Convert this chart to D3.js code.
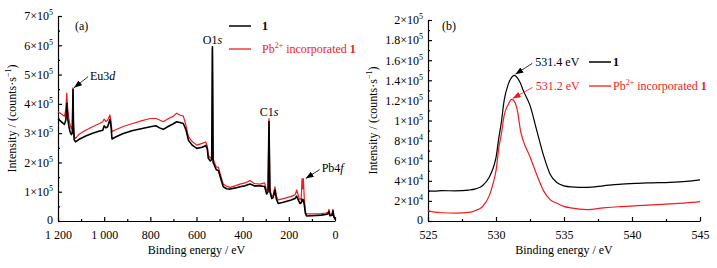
<!DOCTYPE html>
<html>
<head>
<meta charset="utf-8">
<script src="https://cdn.jsdelivr.net/npm/d3@7"></script>
<style>
    body { margin: 0; background: #fff; }
    svg, svg text { font-family: "Liberation Serif", "Times New Roman", serif; }
    .axis path, .axis line { stroke: #000; stroke-width: 1.2; }
    .axis text { font-family: "Liberation Serif", "Times New Roman", serif; font-size: 12px; fill: #000; }
</style>
</head>
<body>
<div id="chart"></div>
<script>

// ---- data ----

// (a) survey spectrum, binding energy in eV, intensity in 10^5 counts/s
var surveyBE = [1200, 1190, 1180, 1172, 1166, 1162, 1158, 1152, 1148, 1142, 1138, 1135, 1133, 1130, 1124,
    1110, 1080, 1050, 1020, 1006, 1000, 993, 985, 975, 970, 966, 955, 920, 880, 840, 800, 776, 760, 744,
    725, 700, 686, 672, 657, 645, 635, 620, 599, 575, 560, 553, 549, 540, 534, 531, 528, 525, 515, 505,
    495, 484, 470, 455, 430, 412, 390, 368, 350, 325, 305, 296, 290, 286, 282, 274, 268, 260, 254, 246,
    220, 190, 173, 166, 158, 152, 146, 143, 140, 137, 133, 128, 123, 100, 60, 40, 30, 26, 22, 12, 9, 5, 0];
var surveyPristine = [3.48, 3.42, 3.35, 3.30, 3.45, 4.02, 3.50, 3.20, 3.05, 2.95, 3.00, 4.50, 3.30, 2.78, 2.70,
    2.78, 2.90, 3.00, 3.07, 3.10, 3.25, 3.18, 3.22, 3.47, 3.20, 2.80, 2.85, 2.98, 3.08, 3.15, 3.22, 3.25, 3.18, 3.13,
    3.22, 3.32, 3.39, 3.36, 3.33, 3.10, 2.76, 2.60, 2.48, 2.52, 2.58, 2.45, 2.14, 2.05, 2.10, 5.95, 2.00, 1.95, 1.76, 1.72,
    1.45, 1.17, 1.10, 1.09, 1.13, 1.17, 1.20, 1.26, 1.20, 1.20, 1.18, 0.92, 1.00, 3.40, 1.00, 0.77, 0.80, 1.06, 0.75, 0.60,
    0.65, 0.72, 0.77, 0.85, 0.70, 0.60, 0.62, 0.75, 0.68, 0.72, 0.55, 0.25, 0.17, 0.18, 0.20, 0.22, 0.25, 0.32, 0.18, 0.20, 0.35, 0.15, 0.05];
var surveyPb = [3.73, 3.68, 3.62, 3.58, 3.80, 4.37, 3.85, 3.45, 3.30, 3.15, 3.25, 4.55, 3.40, 2.88, 2.82,
    2.95, 3.10, 3.22, 3.33, 3.39, 3.48, 3.40, 3.44, 3.62, 3.40, 3.05, 3.10, 3.22, 3.32, 3.42, 3.50, 3.50, 3.45, 3.39,
    3.48, 3.58, 3.68, 3.62, 3.58, 3.25, 2.88, 2.72, 2.59, 2.65, 2.70, 2.55, 2.25, 2.15, 2.20, 5.90, 2.10, 2.06, 1.85, 1.83,
    1.55, 1.26, 1.19, 1.15, 1.21, 1.26, 1.30, 1.38, 1.28, 1.26, 1.30, 1.04, 1.10, 3.50, 1.10, 0.83, 0.88, 1.17, 0.85, 0.72,
    0.77, 0.84, 0.89, 1.06, 0.85, 0.72, 0.80, 1.45, 1.10, 1.45, 0.75, 0.30, 0.24, 0.24, 0.25, 0.27, 0.30, 0.40, 0.22, 0.25, 0.40, 0.18, 0.08];

var surveyXTicks = [1200, 1000, 800, 600, 400, 200, 0];
var surveyYTicks = [0, 1, 2, 3, 4, 5, 6, 7];            // x 10^5

// (b) O1s region, binding energy in eV, intensity in 10^4 counts/s
var o1sBE = [525.0, 525.5, 526.0, 527.0, 528.0, 528.5, 529.0, 529.5, 529.8, 530.0, 530.2, 530.4, 530.6, 530.9,
    531.15, 531.35, 531.6, 531.8, 532.0, 532.5, 533.0, 533.5, 534.0, 534.5, 535.0, 535.5, 536.7, 537.9, 539.0,
    540.4, 541.5, 542.8, 544.0, 545.0];
var o1sPristine = [3.00, 2.98, 3.02, 3.00, 3.08, 3.20, 3.50, 4.35, 5.30, 6.30, 8.20, 9.90, 12.0, 13.6,
    14.3, 14.5, 14.2, 13.7, 13.0, 11.5, 9.0, 6.5, 4.6, 3.8, 3.5, 3.4, 3.35, 3.5, 3.65,
    3.75, 3.8, 3.85, 3.95, 4.1];
var o1sPb = [1.00, 0.88, 0.82, 0.78, 0.85, 1.05, 1.42, 2.50, 3.80, 5.00, 7.20, 8.70, 10.5, 11.6,
    12.1, 11.9, 10.8, 9.0, 8.0, 6.4, 4.6, 3.0, 2.1, 1.76, 1.45, 1.3, 1.13, 1.3, 1.42,
    1.52, 1.6, 1.7, 1.8, 1.92];

var o1sXTicks = [525, 530, 535, 540, 545];
var o1sYTicks = [0, 2, 4, 6, 8, 10, 12, 14, 16, 18, 20];  // x 10^4

var black = "#000";
var red = "#f01c1c";


var svg = d3.select("#chart").append("svg")
    .attr("width", 717)
    .attr("height", 268);

var defs = svg.append("defs");
[["arrowK", black], ["arrowR", red]].forEach(function(m) {
    defs.append("marker")
        .attr("id", m[0])
        .attr("markerUnits", "userSpaceOnUse")
        .attr("markerWidth", 8).attr("markerHeight", 6)
        .attr("refX", 8).attr("refY", 3)
        .attr("orient", "auto")
        .append("path")
        .attr("d", "M0,0 L8,3 L0,6 z")
        .attr("fill", m[1]);
});

// write base + superscript into a text element
function supText(sel, base, sup, tail) {
    sel.text(null);
    sel.append("tspan").text(base);
    sel.append("tspan").attr("dy", -5).attr("font-size", "8px").text(sup);
    if (tail) sel.append("tspan").attr("dy", 5).text(tail);
}


/*
 * One panel: scales, inward axes with minor ticks, two lines
 */
Panel = function(_opt) {
    this.opt = _opt;
    this.initVis();
}

Panel.prototype.initVis = function() {
    var vis = this, o = vis.opt;

    vis.g = svg.append("g");

    vis.x = d3.scaleLinear().domain(o.xDomain).range([o.left, o.right]);
    vis.y = d3.scaleLinear().domain(o.yDomain).range([o.bottom, o.top]);

    // minor ticks
    vis.g.append("g")
        .attr("class", "axis")
        .attr("transform", "translate(0," + o.bottom + ")")
        .call(d3.axisBottom(vis.x).tickValues(o.xMinor).tickSizeInner(-2).tickSizeOuter(0).tickFormat(""))
        .select(".domain").remove();
    vis.g.append("g")
        .attr("class", "axis")
        .attr("transform", "translate(" + o.left + ",0)")
        .call(d3.axisLeft(vis.y).tickValues(o.yMinor).tickSizeInner(-2).tickSizeOuter(0).tickFormat(""))
        .select(".domain").remove();

    // major axes
    vis.xAxis = vis.g.append("g")
        .attr("class", "axis")
        .attr("transform", "translate(0," + o.bottom + ")")
        .call(d3.axisBottom(vis.x).tickValues(o.xTicks).tickSizeInner(-4).tickSizeOuter(0)
            .tickPadding(9).tickFormat(o.xFormat));

    vis.yAxis = vis.g.append("g")
        .attr("class", "axis")
        .attr("transform", "translate(" + o.left + ",0)")
        .call(d3.axisLeft(vis.y).tickValues(o.yTicks).tickSizeInner(-4).tickSizeOuter(0).tickPadding(5));

    vis.yAxis.selectAll(".tick text").each(function(d) {
        var t = o.yLabel(d);
        if (t.length == 1) d3.select(this).text(t[0]).attr("dy", "0.2em");
        else supText(d3.select(this), t[0], t[1]);
    });

    // axis titles
    vis.g.append("text")
        .attr("x", (o.left + o.right) / 2)
        .attr("y", 254)
        .attr("text-anchor", "middle")
        .attr("font-size", "12px")
        .text("Binding energy / eV");

    var yt = vis.g.append("text")
        .attr("transform", "translate(" + o.titleX + "," + ((o.top + o.bottom) / 2) + ") rotate(-90)")
        .attr("text-anchor", "middle")
        .attr("font-size", "12px");
    supText(yt, "Intensity / (counts\u00b7s", "\u22121", ")");

    vis.g.append("text")
        .attr("x", o.left + o.tagDx)
        .attr("y", 30)
        .attr("font-size", "12px")
        .text(o.tag);

    vis.line = d3.line()
        .x(function(d) { return vis.x(d[0]); })
        .y(function(d) { return vis.y(d[1]); })
        .curve(o.curve);

    vis.drawLine(o.xs, o.red, red, o.redWidth);
    vis.drawLine(o.xs, o.black, black, o.blackWidth);

    vis.drawLegend();
}

Panel.prototype.drawLine = function(xs, ys, colour, w) {
    var vis = this;
    var pts = xs.map(function(v, i) { return [v, ys[i] * vis.opt.unit]; });
    vis.g.append("path")
        .datum(pts)
        .attr("fill", "none")
        .attr("stroke", colour)
        .attr("stroke-width", w)
        .attr("stroke-linejoin", "round")
        .attr("d", vis.line);
}

Panel.prototype.drawLegend = function() {
    var vis = this, o = vis.opt;
    var lx = o.legendX, ly = o.legendY;

    vis.g.append("line")
        .attr("x1", lx).attr("x2", lx + 22)
        .attr("y1", ly).attr("y2", ly)
        .attr("stroke", black).attr("stroke-width", 1.5);
    vis.g.append("text")
        .attr("x", lx + o.legendGap).attr("y", ly + 4)
        .attr("font-size", "12px").attr("font-weight", "bold")
        .text("1");

    vis.g.append("line")
        .attr("x1", lx).attr("x2", lx + 22)
        .attr("y1", ly + o.legendStep).attr("y2", ly + o.legendStep)
        .attr("stroke", red).attr("stroke-width", 1.3);
    var t = vis.g.append("text")
        .attr("x", lx + o.legendGap).attr("y", ly + o.legendStep + 4)
        .attr("font-size", "12px").attr("fill", red);
    t.append("tspan").text("Pb");
    t.append("tspan").attr("dy", -5).attr("font-size", "8px").text("2+");
    t.append("tspan").attr("dy", 5).text(" incorporated ");
    t.append("tspan").attr("font-weight", "bold").text("1");
}


// ---- panel (a) ----
var pa = new Panel({
    left: 58, right: 335, top: 16, bottom: 221,
    xDomain: [1200, 0], yDomain: [0, 7e5], unit: 1e5,
    xTicks: surveyXTicks, xMinor: d3.range(1100, 0, -200),
    yTicks: surveyYTicks.map(function(d) { return d * 1e5; }),
    yMinor: d3.range(0.5e5, 7e5, 1e5),
    xFormat: function(d) { return d >= 1000 ? "1 " + String(d).slice(1) : d; },
    yLabel: function(d) { return d == 0 ? ["0"] : [String(d / 1e5) + "\u00d710", "5"]; },
    titleX: 16, tag: "(a)", tagDx: 17,
    xs: surveyBE, black: surveyPristine, red: surveyPb,
    blackWidth: 1.6, redWidth: 1.2, curve: d3.curveLinear,
    legendX: 229, legendY: 26, legendStep: 23, legendGap: 33
});

// ---- panel (b) ----
var pb = new Panel({
    left: 428, right: 700, top: 20, bottom: 221,
    xDomain: [525, 545], yDomain: [0, 2e5], unit: 1e4,
    xTicks: o1sXTicks, xMinor: [527.5, 532.5, 537.5, 542.5],
    yTicks: o1sYTicks.map(function(d) { return d * 1e4; }),
    yMinor: d3.range(1e4, 2e5, 2e4),
    xFormat: function(d) { return d; },
    yLabel: function(d) {
        if (d == 0) return ["0"];
        if (d < 1e5) return [String(d / 1e4) + "\u00d710", "4"];
        return [String(d / 1e5) + "\u00d710", "5"];
    },
    titleX: 377, tag: "(b)", tagDx: 14,
    xs: o1sBE, black: o1sPristine, red: o1sPb,
    blackWidth: 1.2, redWidth: 1.2, curve: d3.curveMonotoneX,
    legendX: 589, legendY: 62, legendStep: 24, legendGap: 24
});


// ---- peak annotations ----
function note(panel, text, italic, x, y, anchor, colour) {
    var t = panel.g.append("text")
        .attr("x", x).attr("y", y)
        .attr("text-anchor", anchor || "start")
        .attr("font-size", "12px")
        .attr("fill", colour || black);
    t.append("tspan").text(text);
    if (italic) t.append("tspan").attr("font-style", "italic").text(italic);
}

function arrow(panel, x1, y1, x2, y2, colour, id) {
    panel.g.append("line")
        .attr("x1", x1).attr("y1", y1)
        .attr("x2", x2).attr("y2", y2)
        .attr("stroke", colour).attr("stroke-width", 0.8)
        .attr("marker-end", "url(#" + id + ")");
}

// survey peaks
var euX = pa.x(1135), euY = pa.y(4.55e5);
arrow(pa, euX + 15, euY - 11, euX + 1, euY, black, "arrowK");
note(pa, "Eu3", "d", euX + 17, euY - 8);

note(pa, "O1", "s", pa.x(531), pa.y(5.95e5) - 3, "middle");
note(pa, "C1", "s", pa.x(286), pa.y(3.5e5) - 3, "middle");

var pbX = pa.x(140), pbY = pa.y(1.45e5);
arrow(pa, pbX + 17, pbY - 9, pbX + 3, pbY, black, "arrowK");
note(pa, "Pb4", "f", pbX + 19, pbY - 7);

// O1s peaks
var kX = pb.x(531.35), kY = pb.y(14.5e4);
arrow(pb, kX + 18, kY - 12, kX + 1, kY - 1, black, "arrowK");
note(pb, "531.4 eV", null, kX + 21, kY - 9);

var rX = pb.x(531.15), rY = pb.y(12.1e4);
arrow(pb, rX + 21, rY - 12, rX + 1, rY - 1, red, "arrowR");
note(pb, "531.2 eV", null, rX + 24, rY - 9, "start", red);

</script>
</body>
</html>
